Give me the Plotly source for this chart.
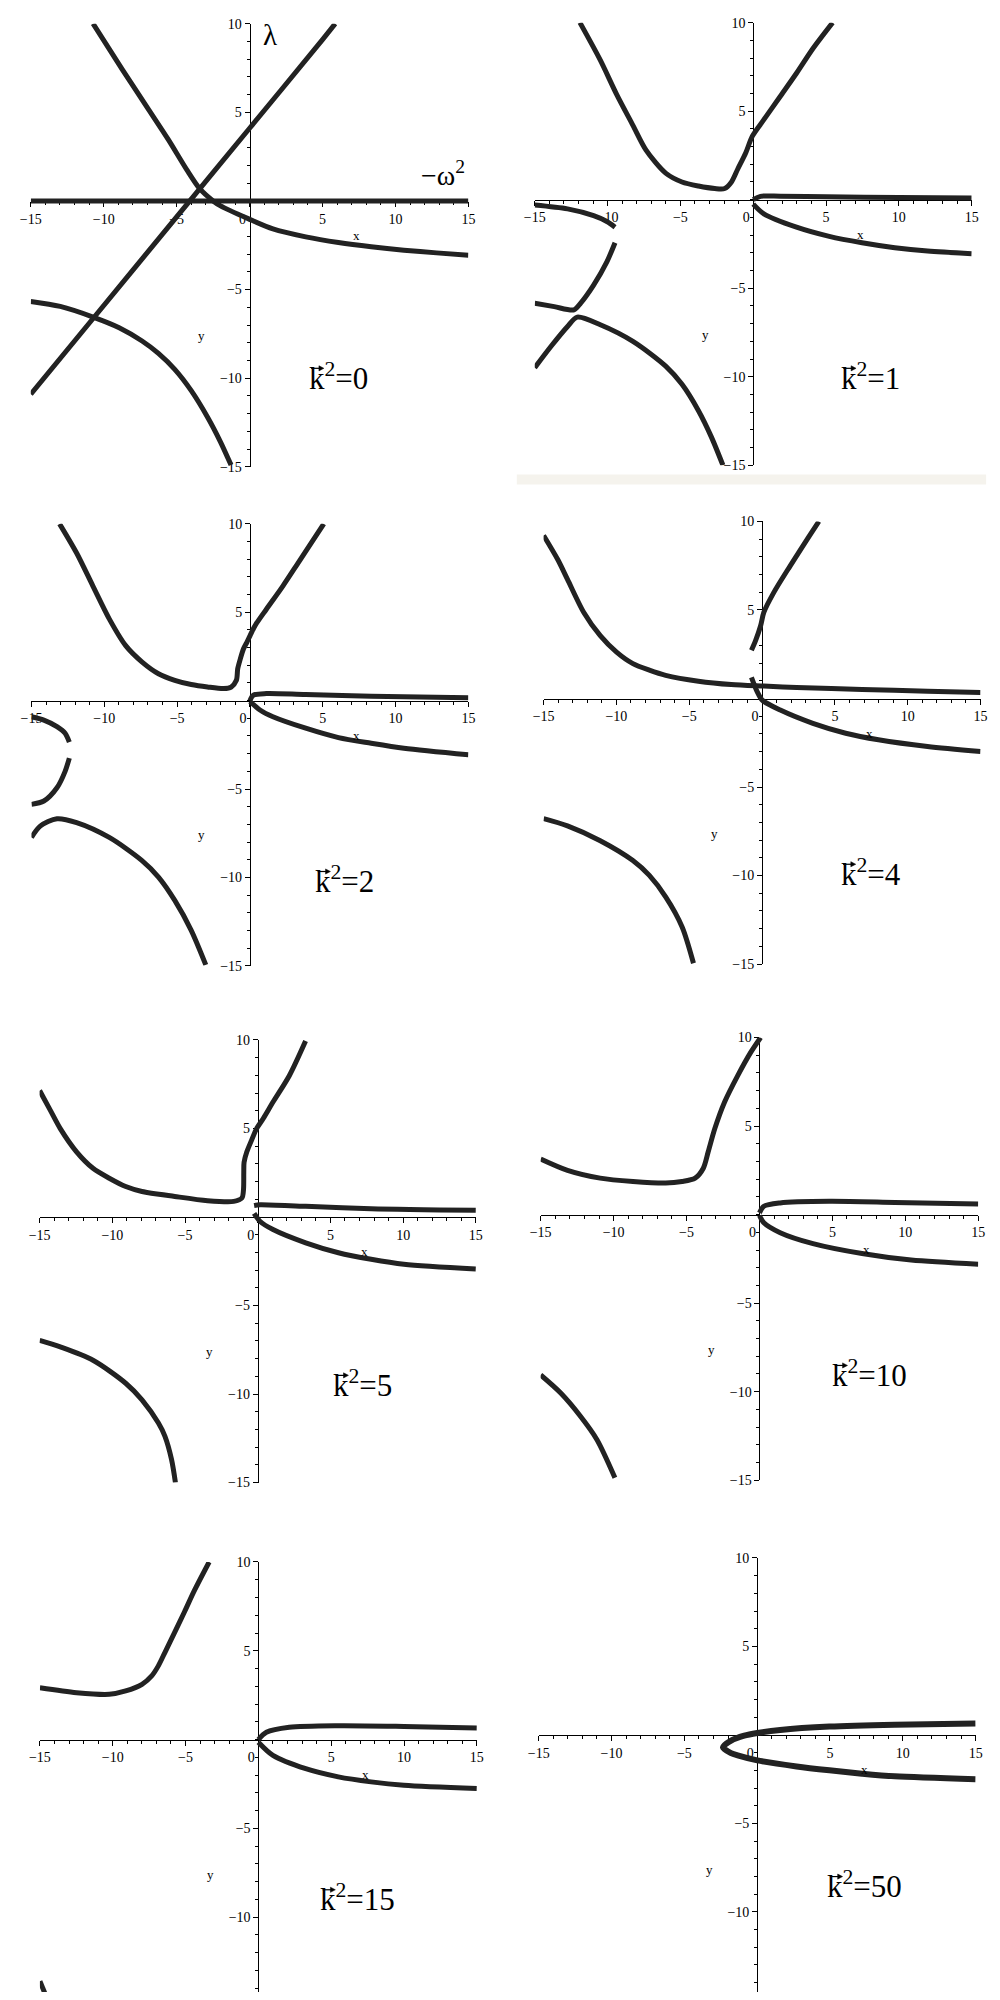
import plotly.graph_objects as go

# ---------------- values ----------------
k2_values = ["0", "1", "2", "4", "5", "10", "15", "50"]

x_tick_vals = [-15, -10, -5, 0, 5, 10, 15]
x_tick_text = ["\u221215", "\u221210", "\u22125", "0\u2003", "5", "10", "15"]
y_tick_vals = [-15, -10, -5, 5, 10]
y_tick_text = ["\u221215", "\u221210", "\u22125", "5", "10"]

# each curve: (x list, y list)
k0_curves = [
    ([-15, -10, -5, 0, 5, 10, 15], [0, 0, 0, 0, 0, 0, 0]),
    ([-15, -10.73, -5, 0, 5, 5.87], [-10.9, -6.63, -0.9, 4.1, 9.1, 10.0]),
    ([-10.73, -8.71, -6.92, -5.58, -4.3, -3.42, -2.5, -1.99, -0.1, 1.6, 3.85, 6.09, 8.34, 10.58, 12.82, 15],
     [10.0, 7.39, 5.15, 3.47, 1.75, 0.69, 0.0, -0.28, -1.0, -1.58, -2.03, -2.35, -2.59, -2.78, -2.93, -3.06]),
    ([-15, -12.98, -10.73, -8.94, -7.37, -6.25, -5.13, -4.0, -2.88, -1.99, -1.27],
     [-5.67, -5.95, -6.55, -7.15, -7.9, -8.6, -9.5, -10.7, -12.2, -13.6, -14.9]),
]
k1_curves = [
    ([-11.9, -10.5, -9.38, -8.26, -7.36, -6.01, -4.89, -3.76, -2.64, -1.96, -1.52, -1.07, -0.51, -0.06, 0.73, 1.85, 2.97, 4.1, 5.45],
     [10.0, 7.88, 5.95, 4.2, 2.8, 1.5, 1.0, 0.77, 0.63, 0.63, 0.97, 1.72, 2.65, 3.59, 4.52, 5.83, 7.14, 8.54, 10.0]),
    ([0, 0.5, 1.85, 5, 10, 15], [0.0, 0.19, 0.2, 0.17, 0.12, 0.09]),
    ([0, 0.73, 2.97, 5.22, 7.47, 9.72, 11.97, 15], [-0.25, -0.8, -1.55, -2.07, -2.43, -2.71, -2.9, -3.05]),
    ([-15, -12.75, -10.96, -10.05, -9.49], [-0.3, -0.52, -0.9, -1.23, -1.55]),
    ([-9.49, -10.05, -10.96, -11.86, -12.31, -13.66, -15], [-2.43, -3.51, -4.82, -5.85, -6.22, -6.04, -5.85]),
    ([-15, -13.88, -12.75, -12.08, -10.5, -8.26, -6.01, -4.89, -3.76, -2.87, -2.08],
     [-9.49, -8.28, -7.16, -6.63, -7.06, -8.0, -9.4, -10.43, -11.92, -13.41, -15.0]),
]
k2_curves = [
    ([-13.07, -11.9, -10.78, -9.65, -8.53, -7.4, -6.28, -5.16, -4.03, -2.91, -1.79, -1.29, -0.93, -0.84, -0.66, -0.44, -0.21, 0.01, 0.35, 1.13, 2.26, 3.38, 5.07],
     [10.0, 8.35, 6.48, 4.61, 3.11, 2.18, 1.52, 1.15, 0.91, 0.77, 0.68, 0.77, 1.15, 1.8, 2.36, 2.93, 3.3, 3.68, 4.24, 5.17, 6.48, 7.88, 10.0]),
    ([0, 0.24, 1.13, 3.83, 8.33, 15], [0.0, 0.31, 0.4, 0.34, 0.25, 0.16]),
    ([0, 0.69, 1.58, 3.83, 6.08, 8.33, 10.57, 15], [-0.05, -0.53, -0.91, -1.56, -2.09, -2.41, -2.69, -3.06]),
    ([-15, -14.15, -13.25, -12.69, -12.4], [-0.91, -1.1, -1.47, -1.85, -2.35]),
    ([-12.4, -12.69, -13.25, -14.15, -15], [-3.25, -4.0, -4.93, -5.68, -5.87]),
    ([-15.0, -14.4, -13.25, -11.9, -9.66, -7.41, -6.28, -5.16, -4.04, -3.03],
     [-7.74, -7.1, -6.68, -6.9, -7.74, -9.05, -9.98, -11.3, -12.98, -14.95]),
]
k4_curves = [
    ([-15, -14.03, -13.36, -12.24, -11.11, -9.99, -8.87, -7.74, -6.62, -4.37, -2.12, 0.12, 2.37, 6.87, 11.36, 15],
     [9.21, 7.85, 6.73, 4.86, 3.55, 2.62, 1.97, 1.6, 1.31, 0.98, 0.79, 0.7, 0.62, 0.51, 0.41, 0.34]),
    ([-0.73, -0.44, -0.1, 0.12, 0.8, 1.92, 3.16, 3.9], [2.72, 3.28, 4.11, 4.86, 5.98, 7.48, 9.07, 10.0]),
    ([-0.73, -0.33, 0.01, 1.25, 3.49, 5.74, 7.99, 11.36, 15], [1.2, 0.38, -0.09, -0.65, -1.4, -1.96, -2.33, -2.71, -2.99]),
    ([-15, -13.36, -11.11, -8.87, -7.74, -6.62, -5.49, -4.71], [-6.78, -7.19, -8.03, -9.15, -9.99, -11.2, -12.9, -14.95]),
]
k5_curves = [
    ([-15, -14.26, -13.58, -12.46, -11.33, -10.21, -9.08, -7.96, -5.71, -3.45, -1.65, -1.09, -0.98, -0.96, -0.94, -0.75, -0.42, -0.08, 0.37, 1.05, 2.17, 3.29],
     [7.14, 6.02, 4.99, 3.68, 2.75, 2.19, 1.72, 1.44, 1.16, 0.92, 0.88, 1.07, 1.54, 2.52, 3.08, 3.68, 4.34, 4.99, 5.55, 6.49, 7.98, 9.94]),
    ([-0.25, 0.15, 3.3, 7.8, 15], [0.65, 0.69, 0.6, 0.47, 0.38]),
    ([-0.25, 0.15, 1.05, 3.3, 5.55, 7.8, 10.05, 15], [0.2, -0.24, -0.71, -1.46, -2.02, -2.39, -2.67, -2.94]),
    ([-15, -13.58, -11.33, -9.08, -7.96, -6.83, -6.38, -5.93, -5.66], [-6.97, -7.34, -8.09, -9.39, -10.33, -11.64, -12.39, -13.69, -15.0]),
]
k10_curves = [
    ([-15, -13.16, -10.92, -8.67, -6.43, -5.31, -4.41, -3.85, -3.51, -3.06, -2.39, -1.49, -0.6, 0.08],
     [3.14, 2.5, 2.06, 1.87, 1.78, 1.87, 2.06, 2.62, 3.56, 4.86, 6.36, 7.85, 9.16, 10.0]),
    ([0, 0.3, 1.42, 4.79, 9.28, 15], [0.1, 0.47, 0.66, 0.75, 0.69, 0.6]),
    ([0, 0.3, 1.42, 3.67, 7.03, 10.4, 15], [-0.05, -0.46, -1.02, -1.64, -2.2, -2.57, -2.8]),
    ([-15, -13.61, -12.26, -11.14, -9.91], [-9.06, -10.09, -11.4, -12.71, -14.86]),
]
k15_curves = [
    ([-15, -12.48, -10.24, -9.11, -7.99, -7.31, -6.87, -6.42, -5.74, -5.07, -4.39, -3.38],
     [2.92, 2.64, 2.55, 2.74, 3.11, 3.6, 4.15, 4.9, 6.05, 7.2, 8.4, 10.0]),
    ([0, 0.55, 2.12, 5.49, 9.99, 15], [0.0, 0.41, 0.69, 0.78, 0.74, 0.65]),
    ([0, 1.0, 3.25, 5.49, 7.74, 9.99, 15], [-0.15, -0.89, -1.64, -2.1, -2.38, -2.57, -2.76]),
    ([-15, -14.6], [-13.6, -14.4]),
]
k50_curves = [
    ([15, 9.45, 4.96, 1.58, 0.01, -0.89, -1.79, -2.35, -1.79, -1.34, 0.01, 2.71, 4.96, 7.2, 9.45, 15],
     [0.65, 0.58, 0.47, 0.28, 0.11, -0.04, -0.32, -0.7, -1.03, -1.16, -1.44, -1.78, -2.0, -2.19, -2.34, -2.5]),
]

panels_curves = [k0_curves, k1_curves, k2_curves, k4_curves, k5_curves, k10_curves, k15_curves, k50_curves]

# ---------------- layout geometry (target pixels of the 1000x2000 page) ----------------
OFF = 8                      # default page margin around the figure
FW, FH = 1000 - OFF, 2000 - OFF
# x(-15) px, x(15) px, y(10) px, bottom px, y value at bottom
panel_px = [
    (20.0, 465.7, 16.7, 463.3, -15.0),
    (533.3, 978.3, 15.7, 461.7, -15.0),
    (20.7, 465.7, 520.7, 966.0, -15.0),
    (542.3, 987.3, 518.3, 964.3, -15.0),
    (29.0, 473.3, 1040.7, 1486.7, -15.0),
    (539.3, 985.0, 1038.3, 1484.3, -15.0),
    (29.3, 474.3, 1566.7, 2000.0, -14.21),
    (537.3, 982.3, 1562.7, 2000.0, -14.53),
]
curve_widths = [5, 5, 5, 5, 5, 5, 5, 6]
# left edge of "k" and its baseline, px
label_px = [(305, 387), (847, 387), (311.7, 894), (846.7, 886.7),
            (330, 1401.7), (838.3, 1391.7), (316.7, 1920), (833.3, 1906.7)]

SERIF = "Liberation Serif, Times New Roman, serif"
CURVE_COLOR = "#222222"


def px(x):
    return (x - OFF) / FW


def py(y):
    return 1 - (y - OFF) / FH


fig = go.Figure()
layout = dict(width=FW, height=FH, margin=dict(l=0, r=0, t=0, b=0), autosize=False,
              paper_bgcolor="white", plot_bgcolor="rgba(0,0,0,0)", showlegend=False)
annotations = []
shapes = [dict(type="rect", xref="paper", yref="paper", x0=px(515), x1=px(993),
               y0=py(481), y1=py(471), fillcolor="#f5f3ed", line=dict(width=0), layer="below")]

for i, (xl, xr, yt, yb, ymin) in enumerate(panel_px):
    n = "" if i == 0 else str(i + 1)
    xa, ya = "x" + n, "y" + n
    y0_px = yt + (10 - 0) / (10 - ymin) * (yb - yt)
    x0_px = xl + 0.5 * (xr - xl)
    tickfont = dict(family=SERIF, size=14, color="black")
    minor = dict(ticks="outside", ticklen=3, tickcolor="black", tickwidth=1,
                 dtick=1, tick0=0, showgrid=False)
    layout["xaxis" + n] = dict(
        domain=[max(0, px(xl)), min(1, px(xr))], range=[-15, 15], anchor="free", position=py(y0_px),
        showline=True, linecolor="black", linewidth=1, ticks="outside", ticklen=5,
        tickcolor="black", tickwidth=1, tickvals=x_tick_vals, ticktext=x_tick_text,
        tickfont=tickfont, showgrid=False, zeroline=False, layer="below traces",
        minor=minor, fixedrange=True)
    layout["yaxis" + n] = dict(
        domain=[max(0, py(yb)), min(1, py(yt))], range=[ymin, 10], anchor="free", position=px(x0_px),
        side="left", showline=True, linecolor="black", linewidth=1, ticks="outside", ticklen=5,
        tickcolor="black", tickwidth=1, tickvals=y_tick_vals, ticktext=y_tick_text,
        tickfont=tickfont, showgrid=False, zeroline=False, layer="below traces",
        minor=minor, fixedrange=True)

    for cx, cy in panels_curves[i]:
        fig.add_trace(go.Scatter(x=cx, y=cy, mode="lines", xaxis=xa, yaxis=ya,
                                 line=dict(color=CURVE_COLOR, width=curve_widths[i],
                                           shape="spline", smoothing=0.8),
                                 hoverinfo="skip"))

    # axis names
    annotations.append(dict(x=7.35, y=-1.95, xref=xa, yref=ya, text="x", showarrow=False,
                            xanchor="center", yanchor="middle",
                            font=dict(family=SERIF, size=13, color="black")))
    annotations.append(dict(x=-3.3, y=-7.6, xref=xa, yref=ya, text="y", showarrow=False,
                            xanchor="center", yanchor="middle",
                            font=dict(family=SERIF, size=13, color="black")))

    # k^2 label
    lx, lb = label_px[i]
    annotations.append(dict(x=px(lx - 4), y=py(lb - 15), xref="paper", yref="paper",
                            xanchor="left", yanchor="middle", showarrow=False,
                            text="k<sup>2</sup>=" + k2_values[i],
                            font=dict(family=SERIF, size=31, color="black")))
    # small vector arrow over k
    ay_ = lb - 23
    shapes.append(dict(type="line", xref="paper", yref="paper",
                       x0=px(lx + 0.5), x1=px(lx + 10), y0=py(ay_), y1=py(ay_),
                       line=dict(color="black", width=1.2)))
    shapes.append(dict(type="path", xref="paper", yref="paper",
                       path="M {:.5f},{:.5f} L {:.5f},{:.5f} L {:.5f},{:.5f} Z".format(
                           px(lx + 13.5), py(ay_), px(lx + 8.5), py(ay_ - 2.6), px(lx + 8.5), py(ay_ + 2.6)),
                       fillcolor="black", line=dict(color="black", width=0.5)))

# lambda and -omega^2 on the first panel
annotations.append(dict(x=px(263.3), y=py(28.3), xref="paper", yref="paper", text="\u03bb",
                        xanchor="center", yanchor="middle", showarrow=False,
                        font=dict(family=SERIF, size=29, color="black")))
annotations.append(dict(x=px(415), y=py(168), xref="paper", yref="paper", xanchor="left",
                        yanchor="middle", text="\u2212\u03c9<sup>2</sup>", showarrow=False,
                        font=dict(family=SERIF, size=28, color="black")))

layout["annotations"] = annotations
layout["shapes"] = shapes
fig.update_layout(**layout)
fig.write_html("out.html", config={"displayModeBar": False})
